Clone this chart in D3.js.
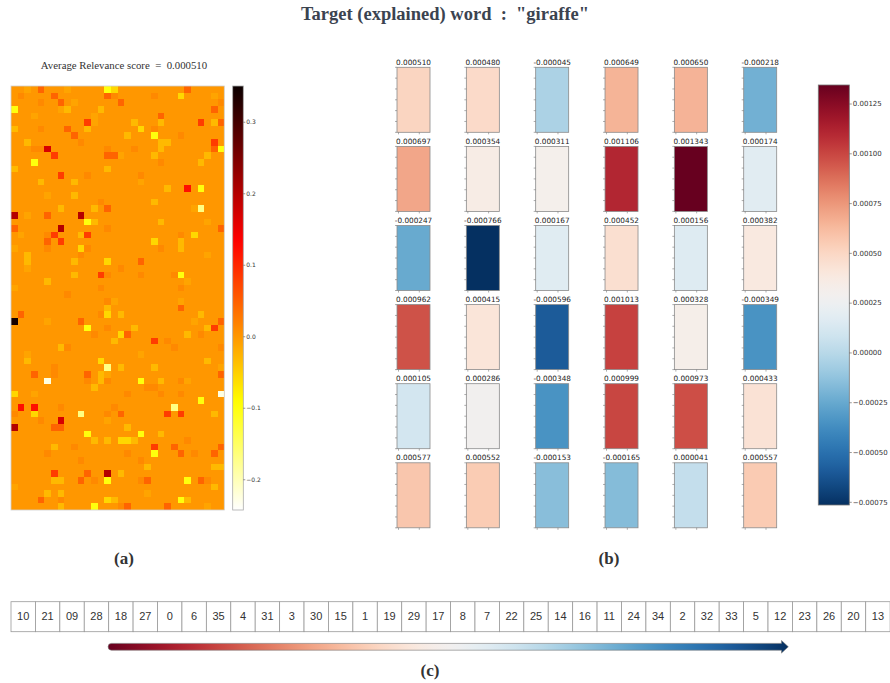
<!DOCTYPE html>
<html>
<head>
<meta charset="utf-8">
<script src="https://cdn.jsdelivr.net/npm/d3@7"></script>
<style>
  body { margin: 0; background: #fff; }
  text { white-space: pre; }
</style>
</head>
<body>
<div id="chart"></div>
<script>
// ---- (a) relevance map: 64 rows x 32 cols, one char per cell (groups of 8)
var mapRows = [
  "..,.o... ,.....Yy ........ ..o.....",
  ".+....o. ......o+ .....+.. .y....,.",
  "....+..o .,...... o....... .......+",
  "Y......, -....-.. ........ ......o.",
  "...,.... ....,... ......o. ........",
  "........ ...r,... ..-...-. ....r.-o",
  "-...+... o..-.... ...y.+.. ........",
  "........ .o...... .-...Y.. .+......",
  "..-..... ..+..... ......-- ......r.",
  "...++M.. ......+. ..+...-. ......oY",
  "......r. ......oo ,....-.. .....-..",
  "...Y.... ........ ......+. ....-...",
  "-....... ......-. ........ ........",
  ".......r ...+.... ...+.... ........",
  "....-... .-...... ...,.... ........",
  "........ ........ .......- ..R.Y...",
  ".....,.. .-...... ........ ........",
  "........ .....+.. .....-.. ........",
  ".......- ....-.o. ........ ...,V...",
  "D.,..o.. ..D..... ........ ........",
  "........ ...Y-... ......-. .....,..",
  "o......D ......+. ........ .......o",
  ".,...+r. ..-r.... ........ .+.y....",
  ".....o.r ........ .....y.. .-......",
  ",....+.. ..y+.... ......+. .-......",
  "..-..... ..+..... ........ .....,..",
  "..-..... .-....y. ...o.... ........",
  "..,..... ........ +....... ........",
  "........ .-...r+. ...+.... +Y......",
  ".....-.. ........ ........ ..,.....",
  ",....... .....+.. ........ .+......",
  "........ +....... ........ ........",
  "........ ......+, ........ .,......",
  "........ ......-. ........ .o......",
  ".o...... .....+y. -....... ....-...",
  "K....,.. ..o..... ........ ...,...o",
  "........ ...Y..+. ..-..... .....-r.",
  "........ ....+... yo...... ..-.+...",
  "........ .......- .....r.+ ........",
  ".......- +....... ........ +......+",
  "..,..... ........ ...,.... ........",
  "..-..... .....y.. ........ .....-..",
  "......+. ......V. -....-.. .......,",
  "...o..+. ...o.-,. ........ .......o",
  ".....W.. ...+.-+. ...Y..-. .+,.....",
  "........ ....-... ....++.. ........",
  "y..,.... ........ .+....+. .+.....W",
  "........ ........ ........ ....Y...",
  ".R.R...+ .......+ ........ V.......",
  "+..y.... ..V...+. o......r .r....-.",
  "....+..M ......,. ........ ........",
  "D.....oo ........ .-...... ........",
  "........ ...Y.... ...Y..-. ........",
  "........ ....-.-. yy-..... ..+.....",
  "......-. .+...... .....r.. o......o",
  ".....+.. ........ .+...Y.. .o.+..o.",
  "........ ..+..... ...+.... ........",
  "........ ........ ....-... ......--",
  "......r. ...o..D. -....... ........",
  "......-- ..o.+.Y. ...+o... ..Y.o+..",
  ",....... ........ ........ ......-.",
  ".....-.- ........ ....,... ........",
  "....o..+ ......y- ........ .Y-.....",
  ".......- ....Y... +o.....o .....,.."
];
// estimated relevance for each char
var mapLevels = {
  ".": 0.0, ",": -0.012, "-": -0.03, "y": -0.057, "Y": -0.1, "V": -0.17, "W": -0.225,
  "+": 0.012, "o": 0.045, "r": 0.08, "R": 0.12, "M": 0.17, "D": 0.2, "K": 0.34
};
var mapDomain = [-0.243, 0.35];
var mapTicks = [-0.2, -0.1, 0.0, 0.1, 0.2, 0.3];
var avgScore = "0.000510";

// ---- (b) 6x6 grid of average scores
var gridValues = [
  [0.000510, 0.000480, -0.000045, 0.000649, 0.000650, -0.000218],
  [0.000697, 0.000354, 0.000311, 0.001106, 0.001343, 0.000174],
  [-0.000247, -0.000766, 0.000167, 0.000452, 0.000156, 0.000382],
  [0.000962, 0.000415, -0.000596, 0.001013, 0.000328, -0.000349],
  [0.000105, 0.000286, -0.000348, 0.000999, 0.000973, 0.000433],
  [0.000577, 0.000552, -0.000153, -0.000165, 0.000041, 0.000557]
];
var gridTicks = [-0.00075, -0.0005, -0.00025, 0.0, 0.00025, 0.0005, 0.00075, 0.001, 0.00125];

// ---- (c) ranking of grid cells
var orderLabels = ["10", "21", "09", "28", "18", "27", "0", "6", "35", "4", "31", "3",
  "30", "15", "1", "19", "29", "17", "8", "7", "22", "25", "14", "16", "11", "24",
  "34", "2", "32", "33", "5", "12", "23", "26", "20", "13"];

var width = 890, height = 683;
var serif = "'Liberation Serif', 'Times New Roman', serif";
var sans = "'DejaVu Sans', sans-serif";

var svg = d3.select("#chart")
    .append("svg")
    .attr("width", width)
    .attr("height", height);
svg.append("rect").attr("width", width).attr("height", height).attr("fill", "#fff");
var defs = svg.append("defs");

// title
svg.append("text")
    .attr("x", 445).attr("y", 20)
    .attr("text-anchor", "middle")
    .style("font-family", serif).style("font-weight", "bold").style("font-size", "18.5px")
    .attr("fill", "#3b4350")
    .text("Target (explained) word  :  \"giraffe\"");

// ---------------- (a) ----------------
// hot colormap (matplotlib segment data), reversed
var hotR = d3.scaleLinear().domain([0, 0.365079, 1]).range([0.0416, 1, 1]).clamp(true);
var hotG = d3.scaleLinear().domain([0, 0.365079, 0.746032, 1]).range([0, 0, 1, 1]).clamp(true);
var hotB = d3.scaleLinear().domain([0, 0.746032, 1]).range([0, 0, 1]).clamp(true);
var mapNorm = d3.scaleLinear().domain(mapDomain).range([0, 1]).clamp(true);
function hotColor(v) {
  var t = 1 - mapNorm(v);
  return d3.rgb(255 * hotR(t), 255 * hotG(t), 255 * hotB(t)).toString();
}

var cells = [];
mapRows.forEach(function(s, r) {
  s.replace(/ /g, "").split("").forEach(function(ch, c) {
    cells.push({ r: r, c: c, v: mapLevels[ch] });
  });
});

var mx = d3.scaleBand().domain(d3.range(32)).range([11, 224.3]);
var my = d3.scaleBand().domain(d3.range(64)).range([86, 510]);

svg.append("text")
    .attr("x", 124).attr("y", 69)
    .attr("text-anchor", "middle")
    .style("font-family", serif).style("font-size", "10.8px")
    .attr("fill", "#333")
    .text("Average Relevance score  =  " + avgScore);

// background first so no seams show between cells
svg.append("rect")
    .attr("x", 11).attr("y", 86).attr("width", 213.3).attr("height", 424)
    .attr("fill", hotColor(0));

svg.append("g").attr("shape-rendering", "crispEdges").selectAll("rect")
    .data(cells.filter(function(d) { return d.v !== 0; }))
    .enter().append("rect")
    .attr("x", function(d) { return mx(d.c); })
    .attr("y", function(d) { return my(d.r); })
    .attr("width", mx.bandwidth())
    .attr("height", my.bandwidth())
    .attr("fill", function(d) { return hotColor(d.v); });

svg.append("rect")
    .attr("x", 11).attr("y", 86).attr("width", 213.3).attr("height", 424)
    .attr("fill", "none").attr("stroke", "#d0d0d0").attr("stroke-width", 0.8);

// colorbar (a)
var gradA = defs.append("linearGradient").attr("id", "gradA")
    .attr("x1", 0).attr("y1", 1).attr("x2", 0).attr("y2", 0);
d3.range(0, 1.0001, 0.02).forEach(function(t) {
  gradA.append("stop").attr("offset", t)
      .attr("stop-color", hotColor(mapDomain[0] + t * (mapDomain[1] - mapDomain[0])));
});
var cbA = d3.scaleLinear().domain(mapDomain).range([510, 86]);
svg.append("rect")
    .attr("x", 232.7).attr("y", 86).attr("width", 10.6).attr("height", 424)
    .attr("fill", "url(#gradA)").attr("stroke", "#aaa").attr("stroke-width", 0.8);
var axA = svg.append("g")
    .attr("transform", "translate(243.3,0)")
    .call(d3.axisRight(cbA).tickValues(mapTicks).tickFormat(d3.format(".1f")).tickSize(2).tickPadding(1));
axA.select(".domain").remove();
axA.selectAll("line").attr("stroke", "#555").attr("stroke-width", 0.6);
axA.selectAll("text").style("font-family", sans).style("font-size", "6px").attr("fill", "#333");

svg.append("text")
    .attr("x", 124).attr("y", 564)
    .attr("text-anchor", "middle")
    .style("font-family", serif).style("font-weight", "bold").style("font-size", "17px")
    .attr("fill", "#333")
    .text("(a)");

// ---------------- (b) ----------------
var gmin = d3.min(gridValues, function(r) { return d3.min(r); });
var gmax = d3.max(gridValues, function(r) { return d3.max(r); });
var gNorm = d3.scaleLinear().domain([gmin, gmax]).range([0, 1]);
function rdbuR(v) { return d3.interpolateRdBu(1 - gNorm(v)); }

var gx = d3.scaleLinear().domain([0, 5]).range([397, 743.7]);
var gy = d3.scaleLinear().domain([0, 5]).range([67.3, 462.8]);
var rw = 33, rh = 65;

var gcells = [];
gridValues.forEach(function(row, r) {
  row.forEach(function(v, c) { gcells.push({ r: r, c: c, v: v }); });
});

var gg = svg.append("g").selectAll("g")
    .data(gcells)
    .enter().append("g")
    .attr("transform", function(d) { return "translate(" + gx(d.c) + "," + gy(d.r) + ")"; });

gg.append("rect")
    .attr("width", rw).attr("height", rh)
    .attr("fill", function(d) { return rdbuR(d.v); })
    .attr("stroke", "#8a8a8a").attr("stroke-width", 0.8);

gg.append("text")
    .attr("x", rw / 2).attr("y", -2.5)
    .attr("text-anchor", "middle")
    .style("font-family", sans).style("font-size", "7.3px")
    .attr("fill", "#222")
    .text(function(d) { return d3.format(".6f")(d.v).replace("\u2212", "-"); });

// small tick marks around each box
gg.each(function() {
  var g = d3.select(this);
  d3.range(0, 7).forEach(function(k) {
    g.append("line").attr("x1", -2).attr("x2", 0)
        .attr("y1", k * rh / 6).attr("y2", k * rh / 6)
        .attr("stroke", "#777").attr("stroke-width", 0.6);
  });
  [1.5, 22.3].forEach(function(dx) {
    g.append("line").attr("x1", dx).attr("x2", dx)
        .attr("y1", rh).attr("y2", rh + 2)
        .attr("stroke", "#777").attr("stroke-width", 0.6);
  });
});

// colorbar (b)
var gradB = defs.append("linearGradient").attr("id", "gradB")
    .attr("x1", 0).attr("y1", 1).attr("x2", 0).attr("y2", 0);
d3.range(0, 1.0001, 0.02).forEach(function(t) {
  gradB.append("stop").attr("offset", t).attr("stop-color", d3.interpolateRdBu(1 - t));
});
var cbB = d3.scaleLinear().domain([gmin, gmax]).range([505, 85]);
svg.append("rect")
    .attr("x", 818.3).attr("y", 85).attr("width", 31).attr("height", 420)
    .attr("fill", "url(#gradB)").attr("stroke", "#777").attr("stroke-width", 0.8);
var axB = svg.append("g")
    .attr("transform", "translate(849.3,0)")
    .call(d3.axisRight(cbB).tickValues(gridTicks).tickFormat(d3.format(".5f")).tickSize(2.5).tickPadding(1));
axB.select(".domain").remove();
axB.selectAll("line").attr("stroke", "#555").attr("stroke-width", 0.6);
axB.selectAll("text").style("font-family", sans).style("font-size", "7px").attr("fill", "#333");

svg.append("text")
    .attr("x", 609).attr("y", 564)
    .attr("text-anchor", "middle")
    .style("font-family", serif).style("font-weight", "bold").style("font-size", "17px")
    .attr("fill", "#333")
    .text("(b)");

// ---------------- (c) ----------------
var cx = d3.scaleBand().domain(d3.range(orderLabels.length)).range([11, 11 + 36 * 24.42]);
var cg = svg.append("g").selectAll("g")
    .data(orderLabels)
    .enter().append("g")
    .attr("transform", function(d, i) { return "translate(" + cx(i) + ",601.7)"; });
cg.append("rect")
    .attr("width", cx.bandwidth()).attr("height", 30)
    .attr("fill", "#fff").attr("stroke", "#999").attr("stroke-width", 0.8);
cg.append("text")
    .attr("x", cx.bandwidth() / 2).attr("y", 18.3)
    .attr("text-anchor", "middle")
    .style("font-family", "'Liberation Sans', Arial, sans-serif").style("font-size", "11px")
    .attr("fill", "#333")
    .text(function(d) { return d; });

// gradient arrow
var gradC = defs.append("linearGradient").attr("id", "gradC")
    .attr("gradientUnits", "userSpaceOnUse")
    .attr("x1", 108).attr("y1", 0).attr("x2", 788).attr("y2", 0);
d3.range(0, 1.0001, 0.02).forEach(function(t) {
  gradC.append("stop").attr("offset", t).attr("stop-color", d3.interpolateRdBu(t));
});
svg.append("path")
    .attr("d", "M111.5,643.4 L781.5,643.4 L781.5,640.5 L788.3,646.8 L781.5,653.1 L781.5,650.2 L111.5,650.2 A3.4,3.4 0 0 1 111.5,643.4 Z")
    .attr("fill", "url(#gradC)").attr("stroke", "#777").attr("stroke-width", 0.6);

svg.append("text")
    .attr("x", 430).attr("y", 676)
    .attr("text-anchor", "middle")
    .style("font-family", serif).style("font-weight", "bold").style("font-size", "17px")
    .attr("fill", "#333")
    .text("(c)");
</script>
</body>
</html>
